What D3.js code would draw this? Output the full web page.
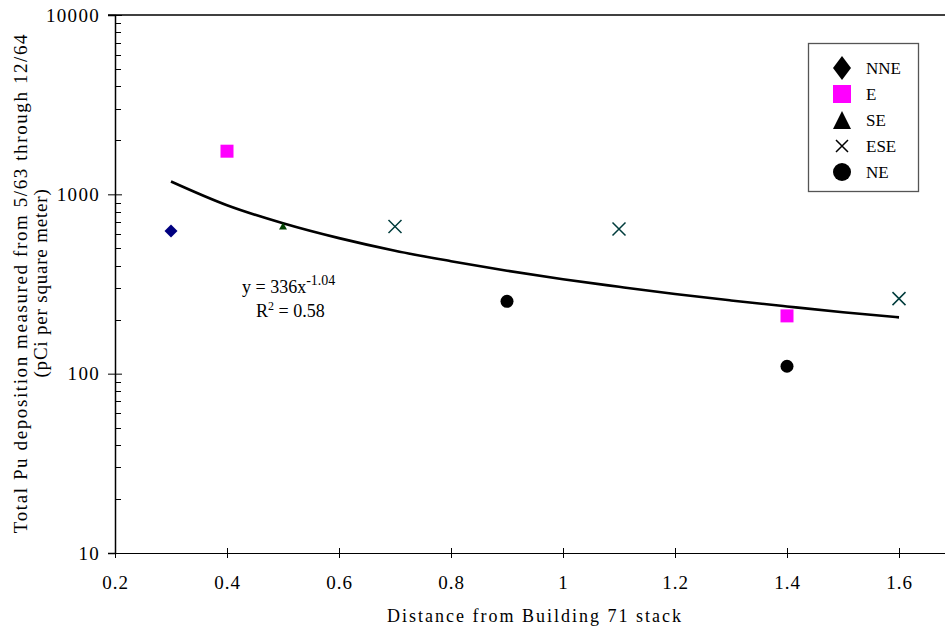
<!DOCTYPE html>
<html>
<head>
<meta charset="utf-8">
<script src="https://cdn.jsdelivr.net/npm/d3@7"></script>
<style>
  body { margin: 0; background: #fff; }
  svg text { font-family: 'Liberation Serif', 'Times New Roman', serif; fill: #000; }
</style>
</head>
<body>
<div id="chart"></div>
<script>
'use strict';

// data
const nneX = [0.3];
const nneY = [625];
const eX = [0.4, 1.4];
const eY = [1740, 210];
const seX = [0.5];
const seY = [665];
const eseX = [0.7, 1.1, 1.6];
const eseY = [662, 640, 262];
const neX = [0.9, 1.4];
const neY = [253, 110];

// power trend line y = 336x^-1.04
const trendX = [0.3, 0.4, 0.5, 0.6, 0.7, 0.8, 0.9, 1.0, 1.1, 1.2, 1.3, 1.4, 1.5, 1.6];
const trendY = [1180, 870, 690, 570, 485, 424, 375, 336, 305, 278, 256, 237, 220, 206];

const xTicks = [0.2, 0.4, 0.6, 0.8, 1, 1.2, 1.4, 1.6];
const yTicks = [10, 100, 1000, 10000];
const legendNames = ['NNE', 'E', 'SE', 'ESE', 'NE'];

(function() {
  const width = 945;
  const height = 632;
  const left = 115;
  const top = 15;
  const bottom = 553;
  const serif = "'Liberation Serif', 'Times New Roman', serif";

  const svg = d3.select('#chart')
    .append('svg')
    .attr('width', width)
    .attr('height', height);

  const xScale = d3.scaleLinear()
    .domain([0.2, 0.2 + (width - left) / 560])
    .range([left, width]);

  const yScale = d3.scaleLog()
    .domain([10, 10000])
    .range([bottom, top]);

  const zip = (xs, ys) => xs.map((x, i) => ({ x: x, y: ys[i] }));

  // top border
  svg.append('line')
    .attr('x1', left - 7).attr('x2', width)
    .attr('y1', top).attr('y2', top)
    .attr('stroke', '#000').attr('stroke-width', 1.3);

  // y minor ticks (inside)
  const minor = [];
  [10, 100, 1000].forEach(d => {
    for (let k = 2; k <= 9; k++) minor.push(d * k);
  });
  svg.append('g')
    .selectAll('line')
    .data(minor)
    .enter()
    .append('line')
    .attr('x1', left).attr('x2', left + 6)
    .attr('y1', d => Math.round(yScale(d)) + 0.5)
    .attr('y2', d => Math.round(yScale(d)) + 0.5)
    .attr('stroke', '#000');

  // y axis
  const yAxis = svg.append('g')
    .attr('transform', 'translate(' + left + ',0)')
    .call(d3.axisLeft(yScale).tickValues(yTicks).tickFormat(d3.format('d')).tickSize(7).tickPadding(8))
    .attr('font-family', serif)
    .attr('font-size', 19);
  yAxis.select('.domain').attr('stroke-width', 1.5);
  yAxis.selectAll('.tick line').clone().attr('x2', 7);
  yAxis.selectAll('text')
    .style('letter-spacing', '1.3px');

  // x axis
  const xAxis = svg.append('g')
    .attr('transform', 'translate(0,' + bottom + ')')
    .call(d3.axisBottom(xScale).tickValues(xTicks).tickFormat(d3.format('')).tickSize(5).tickPadding(18))
    .attr('font-family', serif)
    .attr('font-size', 19);
  xAxis.selectAll('.tick line').clone().attr('y2', -5);
  xAxis.selectAll('text')
    .style('letter-spacing', '1px');
  xAxis.select('.domain').attr('d', 'M' + (left - 7) + ',0.5H' + width);

  // axis titles
  svg.append('text')
    .attr('x', 535)
    .attr('y', 622)
    .attr('text-anchor', 'middle')
    .style('font-size', '18px')
    .style('letter-spacing', '2px')
    .text('Distance from Building 71 stack');

  svg.append('text')
    .attr('transform', 'translate(27,283)rotate(-90)')
    .attr('text-anchor', 'middle')
    .style('font-size', '19px')
    .style('letter-spacing', '1.6px')
    .text('Total Pu deposition measured from 5/63 through 12/64');

  svg.append('text')
    .attr('transform', 'translate(47,283)rotate(-90)')
    .attr('text-anchor', 'middle')
    .style('font-size', '19px')
    .style('letter-spacing', '0.8px')
    .text('(pCi per square meter)');

  // trend line
  const line = d3.line()
    .x(d => xScale(d.x))
    .y(d => yScale(d.y))
    .curve(d3.curveMonotoneX);

  svg.append('path')
    .datum(zip(trendX, trendY))
    .attr('d', line)
    .attr('fill', 'none')
    .attr('stroke', '#000')
    .attr('stroke-width', 2.6);

  // equation
  const eq = svg.append('text')
    .attr('x', 242)
    .attr('y', 293)
    .style('font-size', '18px');
  eq.append('tspan').text('y = 336x');
  eq.append('tspan').attr('dy', -8).style('font-size', '14px').text('-1.04');

  const r2 = svg.append('text')
    .attr('x', 256)
    .attr('y', 317)
    .style('font-size', '18px');
  r2.append('tspan').text('R');
  r2.append('tspan').attr('dy', -7).style('font-size', '12px').text('2');
  r2.append('tspan').attr('dy', 7).text(' = 0.58');

  // markers: w, h are full width / height in pixels
  const colors = { NNE: '#000080', E: '#ff00ff', SE: '#004000', ESE: '#003c3c', NE: '#000' };

  function drawMarker(g, name, w, h, color) {
    const a = w / 2;
    const b = h / 2;
    if (name === 'NNE') {
      g.append('path')
        .attr('d', 'M0,' + -b + 'L' + a + ',0L0,' + b + 'L' + -a + ',0Z')
        .attr('fill', color);
    } else if (name === 'E') {
      g.append('rect')
        .attr('x', -a).attr('y', -b).attr('width', w).attr('height', h)
        .attr('fill', color);
    } else if (name === 'SE') {
      g.append('path')
        .attr('d', 'M0,' + -b + 'L' + a + ',' + b + 'L' + -a + ',' + b + 'Z')
        .attr('fill', color);
    } else if (name === 'ESE') {
      g.append('path')
        .attr('d', 'M' + -a + ',' + -b + 'L' + a + ',' + b + 'M' + -a + ',' + b + 'L' + a + ',' + -b)
        .attr('stroke', color)
        .attr('stroke-width', 1.5)
        .attr('fill', 'none');
    } else {
      g.append('circle').attr('r', a).attr('fill', color);
    }
  }

  const dataSize = { NNE: [13, 13], E: [13, 13], SE: [8, 7], ESE: [13, 13], NE: [13, 13] };
  const series = [
    { name: 'NNE', pts: zip(nneX, nneY) },
    { name: 'E', pts: zip(eX, eY) },
    { name: 'SE', pts: zip(seX, seY) },
    { name: 'ESE', pts: zip(eseX, eseY) },
    { name: 'NE', pts: zip(neX, neY) },
  ];

  series.forEach(s => {
    s.pts.forEach(p => {
      const g = svg.append('g')
        .attr('transform', 'translate(' + xScale(p.x) + ',' + yScale(p.y) + ')');
      drawMarker(g, s.name, dataSize[s.name][0], dataSize[s.name][1], colors[s.name]);
    });
  });

  // legend
  const legend = svg.append('g');
  legend.append('rect')
    .attr('x', 808.5).attr('y', 43.5)
    .attr('width', 110).attr('height', 148)
    .attr('fill', '#fff')
    .attr('stroke', '#555')
    .attr('stroke-width', 1.3);

  const legendSize = { NNE: [18, 24], E: [18, 18], SE: [18, 18], ESE: [12, 12], NE: [18, 18] };
  legendNames.forEach((name, i) => {
    const cy = 68 + i * 26;
    const g = legend.append('g').attr('transform', 'translate(842,' + cy + ')');
    drawMarker(g, name, legendSize[name][0], legendSize[name][1], name === 'E' ? '#ff00ff' : '#000');
    legend.append('text')
      .attr('x', 866)
      .attr('y', cy + 6)
      .style('font-size', '17px')
      .text(name);
  });
})();
</script>
</body>
</html>
